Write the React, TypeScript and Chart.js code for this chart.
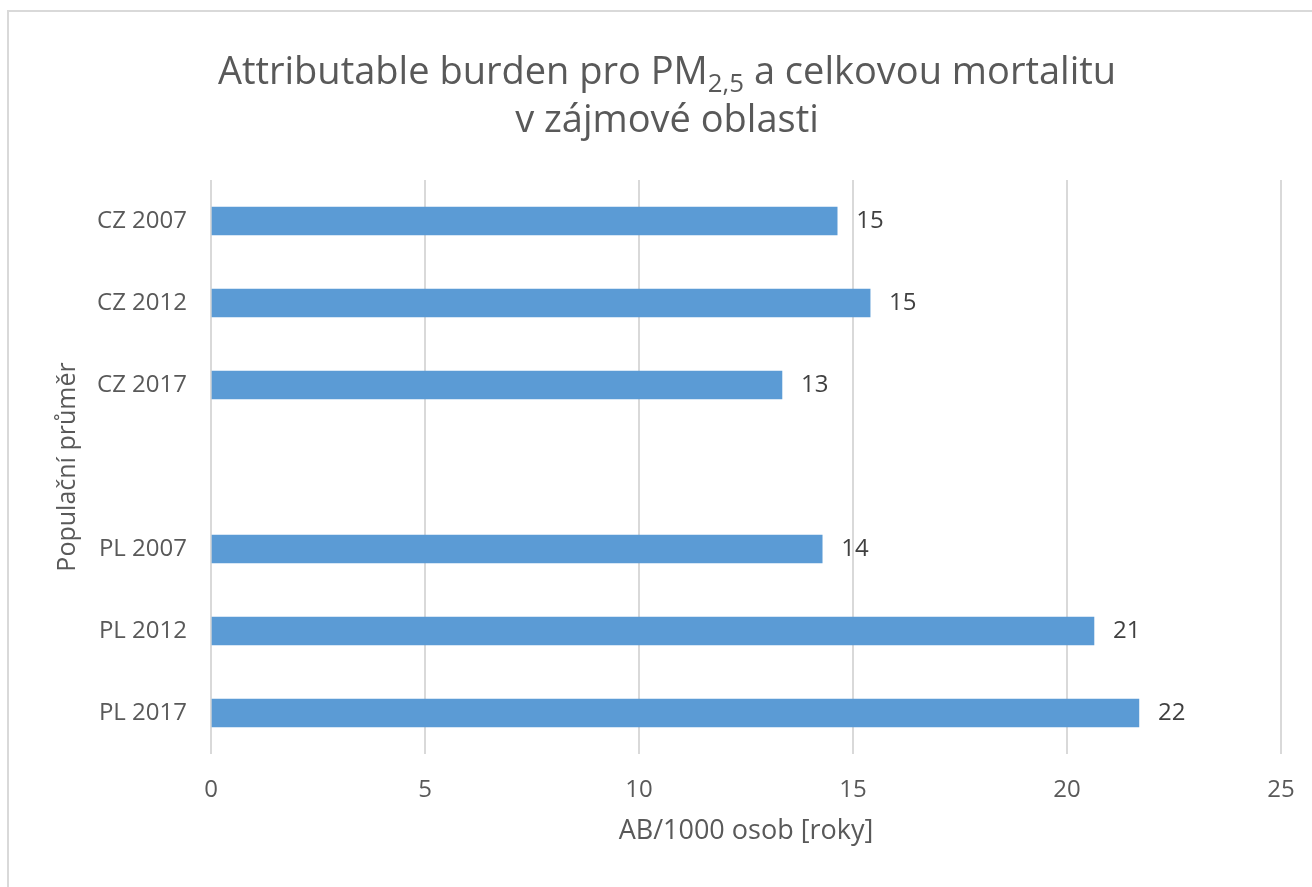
import React, { useEffect, useRef } from "react";
import { Chart, registerables } from "chart.js";

Chart.register(...registerables);

const categories: string[] = ["CZ 2007", "CZ 2012", "CZ 2017", "", "PL 2007", "PL 2012", "PL 2017"];
const values: (number | null)[] = [14.63, 15.4, 13.34, null, 14.28, 20.63, 21.68];
const xTickValues: number[] = [0, 5, 10, 15, 20, 25];
const xAxisTitle = "AB/1000 osob [roky]";
const yAxisTitle = "Populační průměr";

const FONT = '"Open Sans", "Segoe UI", sans-serif';

const dataLabelPlugin = {
  id: "barValueLabels",
  afterDatasetsDraw(chart: any) {
    const ctx = chart.ctx;
    const meta = chart.getDatasetMeta(0);
    ctx.save();
    ctx.font = `24px ${FONT}`;
    ctx.fillStyle = "#404040";
    ctx.textAlign = "left";
    ctx.textBaseline = "middle";
    meta.data.forEach((el: any, i: number) => {
      const v = values[i];
      if (v == null) return;
      ctx.fillText(String(Math.round(v)), el.x + 19, el.y);
    });
    ctx.restore();
  },
};

export default function App() {
  const ref = useRef<HTMLCanvasElement | null>(null);

  useEffect(() => {
    if (!ref.current) return;
    const chart = new Chart(ref.current, {
      type: "bar",
      data: {
        labels: categories,
        datasets: [
          {
            data: values as any,
            backgroundColor: "#5B9BD5",
            borderWidth: 0,
            barThickness: 28,
          },
        ],
      },
      options: {
        indexAxis: "y",
        responsive: false,
        animation: false,
        layout: { padding: { left: 0, right: 31, top: 180, bottom: 0 } },
        plugins: {
          legend: { display: false },
          tooltip: { enabled: false },
          title: { display: false },
        },
        scales: {
          x: {
            type: "linear",
            min: 0,
            max: 25,
            afterBuildTicks(scale: any) {
              scale.ticks = xTickValues.map((v) => ({ value: v }));
            },
            afterFit(scale: any) {
              scale.height = 133;
              scale.paddingRight = 0;
              scale.paddingLeft = 0;
            },
            ticks: {
              color: "#595959",
              font: { family: FONT, size: 24 },
              padding: 22,
            },
            grid: { color: "#d9d9d9", lineWidth: 2, drawTicks: false },
            border: { display: false },
            title: {
              display: true,
              text: xAxisTitle,
              color: "#595959",
              font: { family: FONT, size: 27 },
              padding: { top: 0, bottom: 39 },
            },
          },
          y: {
            type: "category",
            afterFit(scale: any) {
              scale.width = 211;
            },
            ticks: {
              color: "#595959",
              font: { family: FONT, size: 24 },
              padding: 24,
              autoSkip: false,
            },
            grid: { display: false, drawTicks: false },
            border: { display: false },
            title: {
              display: true,
              text: yAxisTitle,
              color: "#595959",
              font: { family: FONT, size: 25 },
              padding: { top: 53, bottom: 0 },
            },
          },
        },
      },
      plugins: [dataLabelPlugin],
    } as any);
    return () => chart.destroy();
  }, []);

  return (
    <div
      style={{
        position: "fixed",
        left: 0,
        top: 0,
        width: 1312,
        height: 887,
        overflow: "hidden",
        background: "#ffffff",
      }}
    >
      <div
        style={{
          position: "absolute",
          left: 7,
          top: 10,
          width: 1400,
          height: 1000,
          border: "2px solid #d9d9d9",
          boxSizing: "border-box",
        }}
      />
      <canvas
        ref={ref}
        width={1312}
        height={887}
        style={{ position: "absolute", left: 0, top: 0, display: "block" }}
      />
      <div
        style={{
          position: "absolute",
          left: 0,
          top: 45,
          width: 1334,
          textAlign: "center",
          fontFamily: FONT,
          fontSize: 38,
          lineHeight: "48px",
          color: "#595959",
          whiteSpace: "nowrap",
        }}
      >
        <div>
          Attributable burden pro PM
          <sub style={{ fontSize: "0.68em", verticalAlign: "-0.3em", lineHeight: 0 }}>2,5</sub> a celkovou
          mortalitu
        </div>
        <div>v zájmové oblasti</div>
      </div>
    </div>
  );
}
